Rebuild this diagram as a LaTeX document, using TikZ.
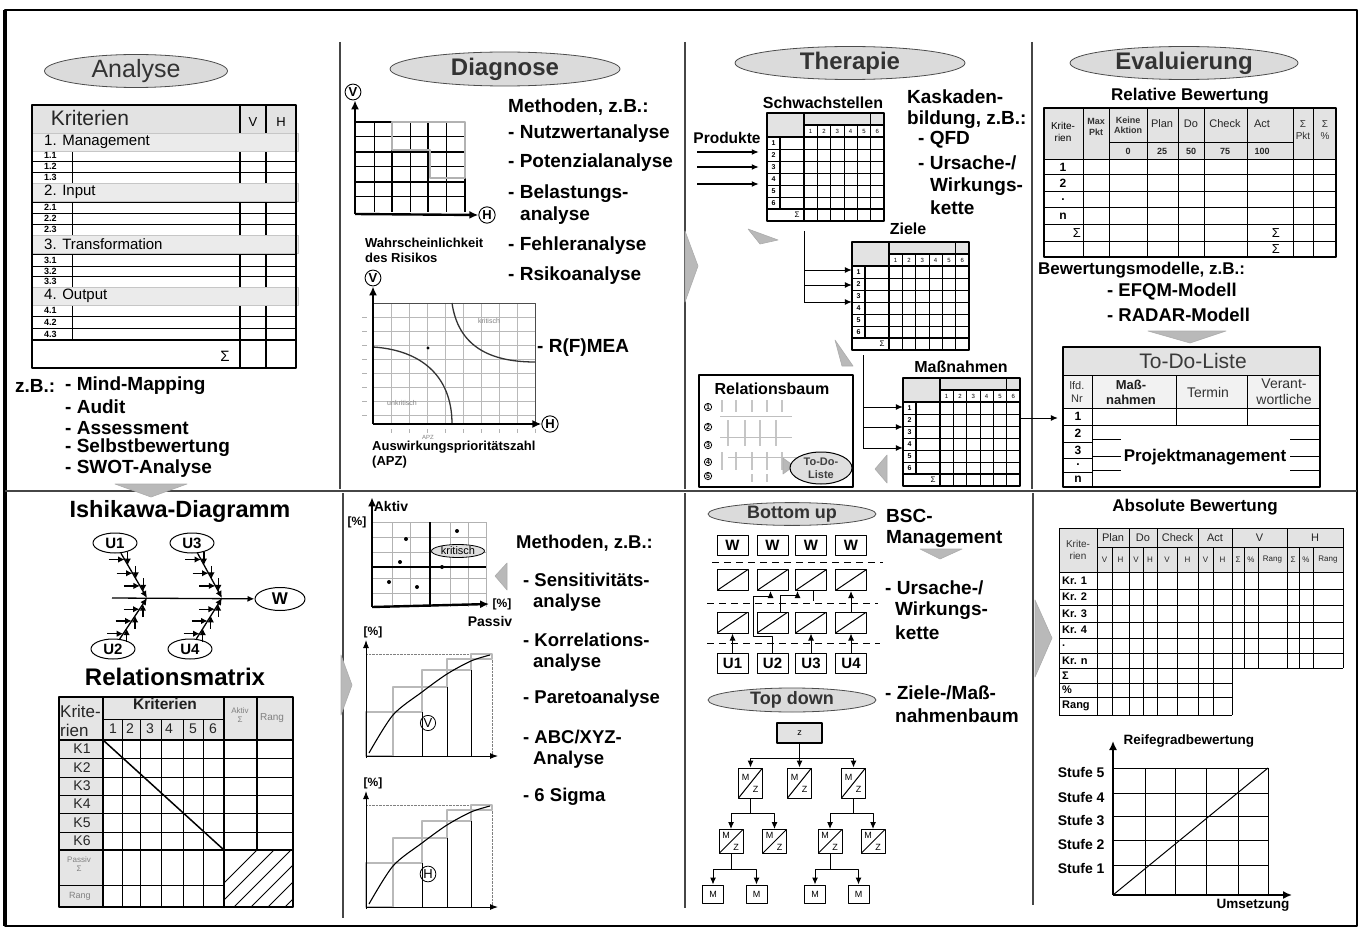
\documentclass[tikz,border=0pt]{standalone}
\usepackage{fontspec}
\setmainfont{Liberation Sans}
\usetikzlibrary{shapes.geometric,arrows.meta,calc,positioning}

\newcommand{\schrift}[1]{\fontsize{#1}{\the\dimexpr #1pt*115/100\relax}\selectfont}

% QFD-Matrix, 117 x 108, Ursprung links oben
\newcommand{\qfdmatrix}{%
  \fill[gray!22] (0,0) rectangle (37,24) (37,0) rectangle (117,12);
  \foreach \x in {50.3,63.7,77,90.3,103.7} \draw[line width=0.9pt] (\x,12) -- (\x,108);
  \draw[line width=0.9pt] (103.7,0) -- (103.7,12);
  \foreach \y in {36,48,60,72,84} \draw[line width=0.9pt] (0,\y) -- (117,\y);
  \draw[line width=1.2pt] (0,24) -- (117,24) (37,12) -- (117,12) (0,96) -- (117,96);
  \draw[line width=1.2pt] (13,24) -- (13,96) (37,0) -- (37,108);
  \foreach \i in {1,...,6}{
    \node[font=\schrift{6}] at (30.3+13.33*\i,18) {\i};
    \node[font=\bfseries\schrift{7}] at (6.5,18+12*\i) {\i};
  }
  \node[font=\schrift{8}] at (30,102) {Σ};
  \draw[line width=1.8pt] (0,0) rectangle (117,108);
}

% Pareto-Diagramm, Ursprung im Achsenkreuz
\newcommand{\paretodiagramm}[1]{%
  \draw[densely dotted,gray] (0,-102) -- (126,-102) -- (126,0);
  \draw[gray!55,line width=2.5pt] (0,0) rectangle (27,-44) (27,-44) rectangle (56,-69)
    (56,-69) rectangle (81,-86) (81,-86) rectangle (105,-97) (105,-97) rectangle (126,-102);
  \draw[line width=0.9pt] (56,0) -- (56,-44) (81,0) -- (81,-69) (105,0) -- (105,-86);
  \draw[line width=1.1pt] plot[smooth] coordinates {(3,-3) (27,-41) (56,-64) (81,-82) (105,-95) (124,-101)};
  \draw[-{Latex[length=8pt,width=6pt]},line width=1pt] (0,2) -- (0,-116);
  \draw[-{Latex[length=8pt,width=6pt]},line width=1pt] (0,0) -- (132,0);
  \node[circle,draw,line width=0.8pt,inner sep=1pt,font=\schrift{13}] at (62,-33) {#1};
  \node[font=\bfseries\schrift{12}] at (7,-124) {[\%]};
}

\begin{document}
\begin{tikzpicture}[x=1pt,y=-1pt,
    line join=round,
    phase/.style={ellipse,draw=gray!60!black,line width=0.8pt,fill=gray!28,inner sep=0pt,
      minimum height=33pt,text=gray!40!black,font=\bfseries\schrift{24}},
    rahmen/.style={line width=2pt},
    trenner/.style={line width=1.2pt,draw=gray!55!black},
    keil/.style={fill=gray!55,draw=gray!65,line width=0.6pt},
    titel/.style={font=\bfseries\schrift{17}},
    methode/.style={anchor=west,inner sep=0pt,font=\bfseries\schrift{19}},
    kreis/.style={circle,draw,line width=0.9pt,inner sep=1.2pt,font=\bfseries\schrift{13}},
    oval/.style={ellipse,draw,line width=1pt,minimum width=44pt,minimum height=20pt,
      inner sep=0pt,font=\bfseries\schrift{15}},
    wbox/.style={draw,line width=1pt,minimum width=31pt,minimum height=20pt,inner sep=0pt,
      font=\bfseries\schrift{15}},
    diagbox/.style={draw,line width=1pt,minimum width=31pt,minimum height=21pt,inner sep=0pt,
      path picture={\draw (path picture bounding box.south west) -- (path picture bounding box.north east);}},
    mzbox/.style={draw,line width=1pt,minimum width=24pt,minimum height=#1,inner sep=0pt,
      path picture={\draw (path picture bounding box.south west) -- (path picture bounding box.north east);
        \node[font=\schrift{9}] at ([shift={(-5pt,6pt)}]path picture bounding box.center) {M};
        \node[font=\schrift{9}] at ([shift={(5pt,-6pt)}]path picture bounding box.center) {Z};}},
    mzbox/.default=26pt,
    mbox/.style={draw,line width=1pt,minimum width=21pt,minimum height=18pt,inner sep=0pt,
      font=\schrift{9}},
    pfeil/.style={-{Latex[length=7pt,width=6pt]},line width=1pt},
    spitze/.style={-{Latex[length=6.5pt,width=6.5pt]},line width=1.3pt},
    achse/.style={-{Latex[length=9pt,width=8pt]},line width=2.4pt},
    stufe/.style={anchor=east,font=\bfseries\schrift{14}},
    zelle/.style={font=\schrift{10}}]

  % ---- Rahmen und Trennlinien ----------------------------------------------
  \useasboundingbox (0,0) rectangle (1360,928);
  \draw[rahmen] (5,10) rectangle (1357,926);
  \draw[line width=3.5pt] (5,10) -- (5,926);
  \draw[trenner] (5,491) -- (1357,491);
  \draw[trenner] (340,42) -- (340,489) (685,42) -- (685,489) (1032,42) -- (1032,489);
  \draw[trenner] (343,493) -- (343,918) (685,493) -- (685,908) (1033,493) -- (1033,905);

  % ---- Analyse: Kriterientabelle ------------------------------------------
  \node[phase,minimum width=183pt,font=\schrift{25}] (analyse) at (136,71) {Analyse};
  \fill[gray!22] (32,105) rectangle (296,133);
  \draw[line width=2pt] (240,105) -- (240,368) (266,105) -- (266,368);
  \foreach \y in {150,161,172,202,213,224,254,266,276,305,316,328}
    \draw[line width=0.9pt] (32,\y) -- (296,\y);
  \draw[line width=1.3pt] (32,340) -- (296,340);
  \foreach \a/\b in {150/183,202/235,254/287,305/340}
    \draw[line width=0.8pt] (72,\a) -- (72,\b);
  \foreach \y/\t [count=\i] in {133/1. Management,183/2. Input,235/3. Transformation,287/4. Output}{
    \filldraw[fill=gray!16,draw=gray!45,line width=0.6pt] (32,\y) rectangle (298,\y+18);
    \node[anchor=west,inner sep=0pt,font=\schrift{15}] (gruppe\i) at (44,\y+9) {\t};
  }
  \foreach \t/\y [count=\i] in {1.1/155.5,1.2/166.5,1.3/177.5,2.1/207.5,2.2/218.5,2.3/229.5,
      3.1/260,3.2/271,3.3/281.5,4.1/310.5,4.2/322,4.3/334}
    \node[anchor=west,inner sep=0pt,font=\bfseries\schrift{9}] (zeile\i) at (44,\y) {\t};
  \draw[line width=1.3pt] (32,105) rectangle (296,368);
  \node[font=\schrift{21},text=gray!30!black] (kriterien) at (90,118) {Kriterien};
  \node[font=\schrift{13}] (spalteV) at (253,122) {V};
  \node[font=\schrift{13}] (spalteH) at (281,122) {H};
  \node[font=\schrift{15}] (summeA) at (225,356) {Σ};

  \node[methode] (zb) at (15,386) {z.B.:};
  \foreach \t/\y [count=\i] in {Mind-Mapping/386,Audit/407,Assessment/428,
      Selbstbewertung/448,SWOT-Analyse/469}
    \node[methode] (methA\i) at (65,\y) {- \t};
  \filldraw[keil] (115,484) -- (187,484) -- (151,497) -- cycle;

  % ---- Ishikawa-Diagramm ---------------------------------------------------
  \node[font=\bfseries\schrift{23.5}] (ishikawa) at (180,511) {Ishikawa-Diagramm};
  \node[oval] (U1) at (115,543) {U1};
  \node[oval] (U3) at (192,543) {U3};
  \node[oval] (U2) at (113,649) {U2};
  \node[oval] (U4) at (190,649) {U4};
  \node[oval,minimum width=50pt,minimum height=23pt,font=\bfseries\schrift{17}] (W) at (280,599) {W};
  \coordinate (schwanz) at (112,598);
  \coordinate (k1) at (147,598);
  \coordinate (k2) at (222,598);
  \draw[pfeil,line width=1.3pt] (schwanz) -- (W);
  \foreach \u/\k/\d in {U1/k1/-1,U3/k2/-1,U2/k1/1,U4/k2/1}{
    \draw[line width=1.3pt,-{Latex[length=7pt,width=6.5pt]}] (\u) -- (\k);
    \foreach \t in {0.3,0.55,0.78}
      \draw[spitze] ($(\u)!\t!(\k)+(-16,0)$) -- ($(\u)!\t!(\k)$);
    \foreach \t in {0.4,0.65,0.88}
      \draw[spitze] ($(\u)!\t!(\k)+(0,\d*13)$) -- ($(\u)!\t!(\k)$);
  }

  % ---- Relationsmatrix -----------------------------------------------------
  \node[font=\bfseries\schrift{24}] (relmatrix) at (175,677) {Relationsmatrix};
  \fill[gray!20] (59,697) rectangle (293,740) (59,740) rectangle (103,907);
  \foreach \x in {122,140,161,183,203} \draw[line width=0.9pt] (\x,719) -- (\x,907);
  \draw[line width=1.1pt] (103,697) -- (103,907) (224,697) -- (224,907) (257,697) -- (257,850);
  \draw (103,719) -- (224,719);
  \foreach \y in {758,777,795,813,832} \draw[line width=0.9pt] (59,\y) -- (293,\y);
  \draw[line width=1.1pt] (59,740) -- (293,740);
  \draw[line width=2pt] (59,850) -- (293,850);
  \draw[line width=0.9pt] (59,885) -- (224,885);
  \begin{scope}
    \clip (224,850) rectangle (293,907);
    \foreach \i in {0,...,5} \draw[line width=0.9pt] (200+\i*17,907) -- ++(60,-60);
  \end{scope}
  \draw[line width=1.5pt] (103,740) -- (224,850);
  \draw[line width=1.5pt] (59,697) rectangle (293,907);
  \node[font=\bfseries\schrift{15.5},text=gray!25!black] (relkrit) at (165,704) {Kriterien};
  \node[font=\schrift{17},text=gray!30!black,align=left,anchor=west,inner sep=0pt] (relkopf) at (60,721) {Krite-\\rien};
  \foreach \x [count=\i] in {113,130,150,169,193,213}
    \node[font=\schrift{14},text=gray!30!black] (nr\i) at (\x,729) {\i};
  \foreach \y [count=\i] in {749,767.5,786,804,822.5,841}
    \node[font=\schrift{14},text=gray!30!black] (K\i) at (82,\y) {K\i};
  \node[font=\schrift{8},text=gray,align=center] (passiv) at (79,864) {Passiv\\Σ};
  \node[font=\schrift{9},text=gray] (rangP) at (80,896) {Rang};
  \node[font=\schrift{8},text=gray,align=center] (aktivS) at (240,715) {Aktiv\\Σ};
  \node[font=\schrift{10},text=gray] (rangA) at (272,718) {Rang};

  % ---- Diagnose: Portfolio und R(F)MEA ------------------------------------
  \node[phase,minimum width=230pt,minimum height=34pt] (diagnose) at (505,69) {Diagnose};
  \foreach \x in {374,410,446.5} \draw[line width=1pt] (\x,122) -- (\x,212);
  \foreach \y in {137,167,197} \draw[line width=1pt] (356,\y) -- (465,\y);
  \foreach \x in {392,428,465} \draw[line width=2.2pt] (\x,122) -- (\x,212);
  \foreach \y in {122,152,182} \draw[line width=2.2pt] (356,\y) -- (465,\y);
  \draw[gray!60,line width=2.5pt] (392,122) -- (465,122) -- (465,178) -- (430,178)
    -- (430,150) -- (392,150) -- cycle;
  \node[kreis] (v1) at (353,92) {V};
  \node[kreis] (h1) at (487,215) {H};
  \coordinate (o1) at (355,214);
  \draw[achse] (o1) -- (o1 |- v1.south);
  \draw[achse] (o1) -- (h1.west);
  \node[anchor=west,inner sep=0pt,align=left,font=\bfseries\schrift{13}] (wahr) at (365,250)
    {Wahrscheinlichkeit\\des Risikos};

  \foreach \x in {391,409,...,535} \draw[gray!55,line width=0.6pt] (\x,303) -- (\x,424);
  \foreach \y in {317,331,...,415} \draw[gray!55,line width=0.6pt] (373,\y) -- (535,\y);
  \foreach \y in {317,331,...,415} \draw[gray!60,line width=1pt] (362,\y) -- (367,\y);
  \foreach \x in {391,409,...,535} \draw[gray!60,line width=1pt] (\x,429) -- (\x,433);
  \draw[gray!60!black,line width=1pt] (373,303) -- (535,303) -- (535,424);
  \draw[gray!40!black,line width=1.3pt] (452,303) .. controls (458,345) and (488,362) .. (535,362);
  \draw[gray!40!black,line width=1.3pt] (373,347) .. controls (420,350) and (452,375) .. (452,424);
  \fill (428,348) circle[radius=1.6];
  \node[font=\schrift{7},text=gray] (kritA) at (489,321) {kritisch};
  \node[font=\schrift{7},text=gray] (unkrit) at (402,403) {unkritisch};
  \node[font=\schrift{6},text=gray] (apzmark) at (428,437) {APZ};
  \node[kreis] (v2) at (373,278) {V};
  \node[kreis] (h2) at (550,424) {H};
  \coordinate (o2) at (373,424);
  \draw[achse,line width=2pt] (o2) -- (v2.south);
  \draw[achse,line width=2pt] (o2) -- (h2.west);
  \node[anchor=west,inner sep=0pt,align=left,font=\bfseries\schrift{13}] (apz) at (372,455)
    {Auswirkungsprioritätszahl\\(APZ)};

  \node[methode] (methD) at (508,107) {Methoden, z.B.:};
  \foreach \t/\x/\y [count=\i] in {- Nutzwertanalyse/508/134,- Potenzialanalyse/508/163,
      - Belastungs-/508/194,analyse/520/216,- Fehleranalyse/508/246,- Rsikoanalyse/508/276,
      - R(F)MEA/537/348}
    \node[methode] (methD\i) at (\x,\y) {\t};

  % ---- Therapie: Kaskade der Matrizen -------------------------------------
  \node[phase,minimum width=230pt] (therapie) at (850,63) {Therapie};
  \filldraw[keil] (685,231) -- (698,266) -- (685,302) -- cycle;
  \node[minimum width=117pt,minimum height=109pt,inner sep=0pt] (schwach) at (825.5,167.5) {};
  \node[minimum width=117pt,minimum height=109pt,inner sep=0pt] (ziele) at (910.5,296.5) {};
  \node[minimum width=117pt,minimum height=109pt,inner sep=0pt] (massn) at (961.5,432.5) {};
  \begin{scope}[shift={(767,113)}] \qfdmatrix \end{scope}
  \begin{scope}[shift={(852,242)}] \qfdmatrix \end{scope}
  \begin{scope}[shift={(903,378)}] \qfdmatrix \end{scope}
  \node[font=\bfseries\schrift{16}] (tSchwach) at (823,103) {Schwachstellen};
  \node[font=\bfseries\schrift{16}] (tZiele) at (908,229) {Ziele};
  \node[font=\bfseries\schrift{16}] (tMassn) at (961,367) {Maßnahmen};
  \node[font=\bfseries\schrift{15.5}] (produkte) at (727,138) {Produkte};
  \foreach \y in {152,167,184}{
    \coordinate (p\y) at (697,\y);
    \draw[pfeil,line width=1.3pt,shorten >=8pt] (p\y) -- (p\y -| schwach.west);
  }
  \coordinate (s1) at (804,231);
  \draw[line width=1pt] (s1) -- ++(0,71);
  \foreach \d in {39,54,71}
    \draw[pfeil] (s1) ++(0,\d) coordinate (q) -- (q -| ziele.west);
  \coordinate (s2) at (863,355);
  \draw[line width=1pt] (s2) -- ++(0,93);
  \foreach \d in {52,72,93}
    \draw[pfeil] (s2) ++(0,\d) coordinate (q) -- (q -| massn.west);
  \filldraw[keil] (748,229) -- (778,240) -- (760,244) -- cycle;
  \filldraw[keil] (835,340) -- (853,366) -- (842,366) -- cycle;
  \filldraw[keil] (887,455) -- (887,483) -- (875,469) -- cycle;

  \node[methode,font=\bfseries\schrift{19}] (kask1) at (907,97) {Kaskaden-};
  \node[methode] (kask2) at (907,120) {bildung, z.B.:};
  \node[methode] (kask3) at (918,140) {- QFD};
  \node[methode] (kask4) at (918,163) {- Ursache-/};
  \node[methode] (kask5) at (930,187) {Wirkungs-};
  \node[methode] (kask6) at (930,208) {kette};

  % Relationsbaum
  \node[draw,line width=1.2pt,minimum width=154pt,minimum height=112pt,inner sep=0pt] (rbaum) at (776,431) {};
  \node[font=\bfseries\schrift{16}] (tBaum) at (772,389) {Relationsbaum};
  \foreach \y [count=\n] in {407,427,445,462,476}
    \node[circle,draw,line width=0.8pt,inner sep=0.4pt,font=\bfseries\schrift{7}] (rb\n) at (708,\y) {\n};
  \foreach \x in {722,736,752,767,782}{
    \draw[gray!45,line width=2pt] (\x,400) -- (\x,412);
    \draw[gray!45,line width=2pt] (\x,452) -- (\x,470);
  }
  \foreach \x in {728,745,760,776} \draw[gray!45,line width=2pt] (\x,420) -- (\x,446);
  \draw[gray!50,line width=1pt] (720,416) -- (792,416) (720,437) -- (792,437) (728,457) -- (800,457);
  \draw[gray!45,line width=2pt] (752,474) -- (752,482) (767,474) -- (767,482);
  \filldraw[keil] (783,458) -- (794,466) -- (783,474) -- cycle;
  \node[ellipse,draw,line width=1pt,fill=gray!25,minimum width=62pt,minimum height=32pt,
    inner sep=0pt,align=center,text=gray!50!black,font=\bfseries\schrift{11}] (tdl) at (821,468) {To-Do-\\Liste};

  % ---- Evaluierung: relative Bewertung ------------------------------------
  \node[phase,minimum width=228pt] (evaluierung) at (1184,63) {Evaluierung};
  \node[titel] (relbew) at (1190,96) {Relative Bewertung};
  \fill[gray!22] (1044,108) rectangle (1336,160);
  \foreach \x in {1083,1109,1147,1178,1204,1247,1293,1313}
    \draw[line width=1pt] (\x,108) -- (\x,257);
  \draw[line width=0.9pt] (1109,142) -- (1293,142);
  \foreach \y in {160,175,192,208,225,242}
    \draw[line width=1pt] (1044,\y) -- (1336,\y);
  \draw[line width=1.3pt] (1044,108) rectangle (1336,257);
  \node[zelle,align=center] (rkrit) at (1063,132) {Krite-\\rien};
  \node[zelle,align=center,text=gray!40!black,font=\bfseries\schrift{9}] (rmax) at (1096,127) {Max\\Pkt};
  \node[zelle,align=center,text=gray!40!black,font=\bfseries\schrift{9}] (rkeine) at (1128,125) {Keine\\Aktion};
  \foreach \x/\t [count=\i] in {1162/Plan,1191/Do,1225/Check,1262/Act}
    \node[font=\schrift{11},text=gray!30!black] (rkopf\i) at (\x,124) {\t};
  \node[zelle,align=center,text=gray!40!black] (rpkt) at (1303,130) {Σ\\Pkt};
  \node[zelle,align=center,text=gray!40!black] (rproz) at (1325,130) {Σ\\\%};
  \foreach \x/\t [count=\i] in {1128/0,1162/25,1191/50,1225/75,1262/100}
    \node[font=\bfseries\schrift{9},text=gray!30!black] (rzahl\i) at (\x,151) {\t};
  \foreach \y/\t [count=\i] in {167.5/1,183.5/2,200/.,216.5/n}
    \node[font=\bfseries\schrift{12}] (rzeile\i) at (1063,\y) {\t};
  \node[font=\schrift{13}] (rsum1) at (1077,233.5) {Σ};
  \node[font=\schrift{13}] (rsum2) at (1276,233.5) {Σ};
  \node[font=\schrift{13}] (rsum3) at (1276,249.5) {Σ};

  \node[methode,font=\bfseries\schrift{17}] (bewmod) at (1038,270) {Bewertungsmodelle, z.B.:};
  \node[methode,font=\bfseries\schrift{18.5}] (efqm) at (1107,292) {- EFQM-Modell};
  \node[methode,font=\bfseries\schrift{18.5}] (radar) at (1107,315) {- RADAR-Modell};
  \filldraw[keil] (1148,331) -- (1226,331) -- (1190,343) -- cycle;

  % To-Do-Liste
  \node[minimum width=257pt,minimum height=140pt,inner sep=0pt] (todo) at (1191.5,417) {};
  \fill[gray!22] (1063,347) rectangle (1320,375);
  \fill[gray!10] (1063,375) rectangle (1320,408);
  \draw[line width=1pt] (1063,375) -- (1320,375) (1063,408) -- (1320,408) (1063,425) -- (1320,425);
  \draw[line width=1pt] (1092,375) -- (1092,487) (1176,375) -- (1176,425) (1247,375) -- (1247,425);
  \foreach \y in {442,458,472} \draw[line width=1pt] (1063,\y) -- (1092,\y);
  \foreach \y in {439,456,470} \draw[line width=0.9pt] (1092,\y) -- (1121,\y) (1290,\y) -- (1320,\y);
  \draw[line width=1.3pt] (1063,347) rectangle (1320,487);
  \node[font=\schrift{21},text=gray!45!black] (tTodo) at (1193,361) {To-Do-Liste};
  \node[font=\schrift{11},text=gray!40!black,align=center] (lfd) at (1077,392) {lfd.\\Nr};
  \node[font=\bfseries\schrift{13},text=gray!25!black,align=center] (tMassnahmen) at (1131,392) {Maß-\\nahmen};
  \node[font=\schrift{14},text=gray!40!black] (termin) at (1208,392) {Termin};
  \node[font=\schrift{14},text=gray!40!black,align=center] (verant) at (1284,392) {Verant-\\wortliche};
  \foreach \y/\t [count=\i] in {416.5/1,433.5/2,450/3,465/.,479.5/n}
    \node[font=\bfseries\schrift{12}] (tzeile\i) at (1078,\y) {\t};
  \node[font=\bfseries\schrift{17}] (projekt) at (1205,457) {Projektmanagement};
  \coordinate (m3r) at (1020,418);
  \draw[pfeil,shorten >=5pt] (m3r) -- (m3r -| todo.west);

  % ---- Diagnose unten: Aktiv/Passiv und Pareto ----------------------------
  \filldraw[keil] (341,655) -- (352,685) -- (341,715) -- cycle;
  \foreach \x in {392,410,450,468,486} \draw[gray!60,line width=0.7pt] (\x,522) -- (\x,607);
  \foreach \y in {522,537,552,578,593} \draw[gray!60,line width=0.7pt] (372,\y) -- (486,\y);
  \draw[line width=2.5pt] (430,522) -- (430,607) (372,567) -- (486,567);
  \coordinate (o3) at (372,607);
  \node[font=\bfseries\schrift{14}] (aktiv) at (391,506) {Aktiv};
  \node[font=\bfseries\schrift{12}] (proz1) at (357,522) {[\%]};
  \node[font=\bfseries\schrift{12}] (proz2) at (502,604) {[\%]};
  \node[font=\bfseries\schrift{14}] (passivA) at (490,621) {Passiv};
  \draw[achse] (o3) -- (o3 |- aktiv.north);
  \draw[achse] (o3) -- (proz2.west);
  \foreach \x/\y in {457/531,406/539,400/562,442/567,389/582,417/587}
    \fill (\x,\y) circle[radius=2];
  \node[ellipse,draw,fill=gray!25,line width=0.8pt,minimum width=53pt,minimum height=13pt,
    inner sep=0pt,font=\schrift{11}] (kritB) at (458,551) {kritisch};
  \filldraw[keil] (507,563) -- (507,590) -- (495,576) -- cycle;
  \begin{scope}[shift={(366,756)}] \paretodiagramm{V} \end{scope}
  \begin{scope}[shift={(366,907)}] \paretodiagramm{H} \end{scope}

  \node[methode,font=\bfseries\schrift{18.5}] (methB) at (516,543) {Methoden, z.B.:};
  \foreach \t/\x/\y [count=\i] in {- Sensitivitäts-/523/580,analyse/533/603,
      - Korrelations-/523/640,analyse/533/663,- Paretoanalyse/523/699,
      Analyse/533/760,- 6 Sigma/523/797}
    \node[methode,font=\bfseries\schrift{18.5}] (methB\i) at (\x,\y) {\t};
  \node[methode,font=\bfseries\schrift{18.5}] (methABC) at (523,737) {- ABC/XYZ-};

  % ---- Therapie unten: Bottom up / Top down -------------------------------
  \node[phase,minimum width=168pt,minimum height=20pt,font=\bfseries\schrift{18}] (bottomup) at (792,514) {Bottom up};
  \node[methode] (bsc1) at (886,516) {BSC-};
  \node[methode] (bsc2) at (886,539) {Management};
  \filldraw[keil] (920,549) -- (962,549) -- (940,559) -- cycle;
  \foreach \x [count=\i] in {732.5,772.5,811,851}{
    \node[wbox] (w\i) at (\x,545) {W};
    \node[diagbox] (r\i) at (\x,580) {};
    \node[diagbox] (s\i) at (\x,622.5) {};
    \node[wbox] (u\i) at (\x,663) {U\i};
  }
  \draw[dash pattern=on 7pt off 5pt,line width=1pt] (712,562) -- (883,562);
  \draw[dash pattern=on 7pt off 5pt,line width=1pt] (707,603) -- (878,603);
  \draw[dash pattern=on 7pt off 5pt,line width=1pt] (707,643) -- (880,643);
  \draw[pfeil] (u1) -- (s1);
  \draw[pfeil] (u3) -- (s3);
  \draw[pfeil] (u4) -- (s4);
  \draw[pfeil] (s4) -- (r4);
  \draw[pfeil] (u2.north) -- ++(0,-16) -- ++(-19,0) -- ++(0,-40) -- ++(17,0) coordinate (h1) -- (h1 |- r2.south);
  \draw[pfeil] ([xshift=8pt]s2.north) -- ++(0,-16) -- ++(17,0) coordinate (h2) -- (h2 |- r3.south);
  \draw[line width=1pt] ([xshift=2pt]r3.south) -- ++(0,10);
  \node[methode] (urs1) at (885,588) {- Ursache-/};
  \node[methode] (urs2) at (895,611) {Wirkungs-};
  \node[methode] (urs3) at (895,633) {kette};

  \node[phase,minimum width=168pt,minimum height=24pt,font=\bfseries\schrift{18}] (topdown) at (792,700) {Top down};
  \node[methode] (zmb1) at (885,693) {- Ziele-/Maß-};
  \node[methode] (zmb2) at (895,716) {nahmenbaum};
  \node[draw,line width=2.5pt,fill=gray!22,minimum width=45pt,minimum height=20pt,inner sep=0pt,
    font=\schrift{9}] (z) at (799.5,733) {z};
  \node[mzbox=30pt] (m1) at (750.5,783) {};
  \node[mzbox=30pt] (m2) at (799.5,783) {};
  \node[mzbox=30pt] (m3) at (853.5,783) {};
  \node[mzbox=24pt] (m11) at (731,841.5) {};
  \node[mzbox=24pt] (m12) at (774.5,841.5) {};
  \node[mzbox=24pt] (m31) at (830,841.5) {};
  \node[mzbox=24pt] (m32) at (873,841.5) {};
  \node[mbox] (e1) at (713,894) {M};
  \node[mbox] (e2) at (756.5,894) {M};
  \node[mbox] (e3) at (815,894) {M};
  \node[mbox] (e4) at (858.5,894) {M};
  \draw[line width=1pt] (z.south) -- ++(0,14) coordinate (zb);
  \draw[pfeil] (zb) -| (m1.north);
  \draw[pfeil] (zb) -- (m2.north);
  \draw[pfeil] (zb) -| (m3.north);
  \draw[line width=1pt] (m1.south) -- ++(0,15) coordinate (b1);
  \draw[pfeil] (b1) -| (m11.north);
  \draw[pfeil] (b1) -| (m12.north);
  \draw[line width=1pt] (m3.south) -- ++(0,15) coordinate (b3);
  \draw[pfeil] (b3) -| (m31.north);
  \draw[pfeil] (b3) -| (m32.north);
  \draw[line width=1pt] (m11.south) -- ++(0,15) coordinate (c1);
  \draw[pfeil] (c1) -| (e1.north);
  \draw[pfeil] (c1) -| (e2.north);
  \draw[line width=1pt] (m31.south) -- ++(0,15) coordinate (c3);
  \draw[pfeil] (c3) -| (e3.north);
  \draw[pfeil] (c3) -| (e4.north);

  % ---- Evaluierung unten: absolute Bewertung und Reifegrad ----------------
  \filldraw[keil] (1035,600) -- (1052,638) -- (1035,677) -- cycle;
  \node[titel] (absbew) at (1195,507) {Absolute Bewertung};
  \fill[gray!22] (1059,528) rectangle (1343,572);
  \foreach \x in {1059,1097,1129,1157,1198,1232} \draw[line width=1pt] (\x,528) -- (\x,715);
  \foreach \x in {1287,1343} \draw[line width=1pt] (\x,528) -- (\x,668);
  \foreach \x in {1112,1143,1177,1213} \draw[line width=0.9pt] (\x,547) -- (\x,715);
  \foreach \x in {1244,1258,1299,1313} \draw[line width=0.9pt] (\x,547) -- (\x,668);
  \draw[line width=1pt] (1059,528) -- (1343,528) (1097,547) -- (1343,547);
  \foreach \y in {572,589,605,622,638,653,668} \draw[line width=1pt] (1059,\y) -- (1343,\y);
  \foreach \y in {683,697,715} \draw[line width=1pt] (1059,\y) -- (1232,\y);
  \node[zelle,align=center,text=gray!40!black] (akrit) at (1078,550) {Krite-\\rien};
  \foreach \x/\t [count=\i] in {1113/Plan,1143/Do,1177.5/Check,1215/Act,1259.5/V,1315/H}
    \node[font=\schrift{11},text=gray!30!black] (akopf\i) at (\x,537.5) {\t};
  \foreach \x/\t [count=\i] in {1104.5/V,1120.5/H,1136/V,1150/H,1167/V,1187.5/H,1205.5/V,1222.5/H,
      1238/Σ,1251/\%,1272.5/Rang,1293/Σ,1306/\%,1328/Rang}
    \node[font=\schrift{8},text=gray!30!black] (asub\i) at (\x,559.5) {\t};
  \foreach \y/\t [count=\i] in {580.5/Kr. 1,597/Kr. 2,613.5/Kr. 3,630/Kr. 4,645.5/.,660.5/Kr. n,
      675.5/Σ,690/\%,706/Rang}
    \node[anchor=west,inner sep=0pt,font=\bfseries\schrift{11}] (azeile\i) at (1062,\y) {\t};

  \foreach \x in {1145,1175,1206,1238,1268} \draw[line width=1pt] (\x,768) -- (\x,895);
  \foreach \y in {768,793,816,840,865} \draw[line width=1pt] (1113,\y) -- (1268,\y);
  \draw[line width=1pt] (1113,895) -- (1268,768);
  \coordinate (o4) at (1113,895);
  \coordinate (xende) at (1292,895);
  \node[anchor=west,font=\bfseries\schrift{13.5}] (reife) at (1120,741) {Reifegradbewertung};
  \node[font=\bfseries\schrift{13.5}] (umsetzung) at (1253,905) {Umsetzung};
  \draw[-{Latex[length=9pt,width=8pt]},line width=1.6pt] (o4) -- (o4 |- reife.center);
  \draw[-{Latex[length=9pt,width=8pt]},line width=1.6pt] (o4) -- (xende);
  \foreach \y/\s in {772/5,797/4,820/3,844/2,868/1}
    \node[stufe] (stufe\s) at (1108,\y) {Stufe \s};

\end{tikzpicture}
\end{document}
